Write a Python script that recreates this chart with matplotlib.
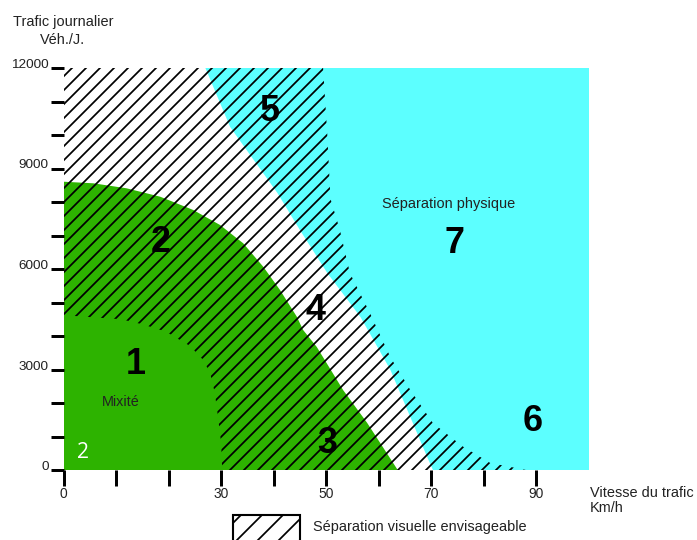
import matplotlib
matplotlib.use("Agg")
import matplotlib.pyplot as plt
from matplotlib.patches import Rectangle

# output size
DPI = 126
W, H = 697, 540

# axes ticks
speed_ticks = [0, 10, 20, 30, 40, 50, 60, 70, 80, 90]
speed_labels = ['0', '', '', '30', '', '50', '', '70', '', '90']
traffic_ticks = list(range(0, 13000, 1000))
traffic_labels = ['0', '', '', '3000', '', '', '6000', '', '', '9000', '', '', '12000']

# zone boundaries (km/h, veh./day)
green_x = [0, 5.7, 12.0, 18.4, 24.7, 29.8, 34.2, 38.0, 41.2, 44.4, 45.6, 48.2, 53.2, 57.8, 63.6]
green_y = [8606, 8558, 8409, 8158, 7761, 7313, 6767, 6069, 5373, 4576, 4179, 3672, 2388, 1403, 0]

mix_x = [0, 11, 15, 19.5, 24.1, 26.5, 27.9, 28.8, 29.4, 30, 30.2]
mix_y = [4620, 4500, 4350, 4130, 3700, 3300, 2900, 2300, 1580, 800, 0]

cyan_x = [27, 31.7, 40.7, 45, 50.2, 56.5, 62.2, 66, 69.2, 70.3]
cyan_y = [12000, 10240, 8270, 7160, 5880, 4570, 2990, 1580, 390, 0]

hatch_x = [49.4, 50.2, 50.8, 52.6, 54.5, 58.3, 62.2, 66, 70.3, 76.1, 81.2, 88]
hatch_y = [12000, 10000, 8100, 7160, 5880, 4690, 3370, 2390, 1400, 690, 210, 0]

# zone numbers
zone_names = ['1', '2', '3', '4', '5', '6', '7']
zone_speed = [13.8, 18.4, 50.1, 47.9, 39.3, 89.3, 74.5]
zone_traffic = [3280, 6925, 896, 4866, 10806, 1582, 6866]

GREEN = '#2db300'
CYAN = '#5cffff'
TEXT = '#222222'

plt.rcParams['font.family'] = ['Liberation Sans', 'DejaVu Sans']
plt.rcParams['hatch.linewidth'] = 1.0

fig = plt.figure(figsize=(W / DPI, H / DPI), dpi=DPI)
ax = fig.add_axes([63.5 / W, 70 / H, (589 - 63.5) / W, 402 / H])
ax.set_xlim(0, 100)
ax.set_ylim(0, 12000)
for s in ax.spines.values():
    s.set_visible(False)

# cyan: physical separation side
ax.fill(cyan_x + [100, 100], cyan_y + [0, 12000], facecolor=CYAN, lw=0)
# green: mixed traffic side
ax.fill([0] + green_x, [0] + green_y, facecolor=GREEN, lw=0)
# hatched band: visual separation possible (7 px line spacing at this dpi)
ax.fill([0, 0] + hatch_x, [0, 12000] + hatch_y, facecolor='none',
        edgecolor='black', hatch='///', lw=0)
# plain mix core
ax.fill([0] + mix_x, [0] + mix_y, facecolor=GREEN, lw=0)

for name, x, y in zip(zone_names, zone_speed, zone_traffic):
    ax.text(x, y, name, ha='center', va='center_baseline', fontsize=20.5,
            fontweight='bold', color='black')

ax.text(10.9, 2030, 'Mixité', ha='center', va='center', fontsize=8.2, color=TEXT)
ax.text(73.2, 7940, 'Séparation physique', ha='center', va='center',
        fontsize=8.3, color=TEXT)

ax.set_xticks(speed_ticks, speed_labels)
ax.set_yticks(traffic_ticks, traffic_labels)
ax.tick_params(axis='x', direction='out', length=9, width=1.7, pad=1,
               labelsize=7.9, labelcolor=TEXT)
ax.tick_params(axis='y', direction='out', length=7.5, width=1.7, pad=1,
               labelsize=7.7, labelcolor=TEXT)
for lab in ax.get_yticklabels():
    lab.set_va('baseline')

# axis titles
fig.text(63.5 / W, 1 - 22 / H, 'Trafic journalier', ha='center', va='center',
         fontsize=8.3, color=TEXT)
fig.text(62 / W, 1 - 40 / H, 'Véh./J.', ha='center', va='center',
         fontsize=8.3, color=TEXT)
fig.text(590 / W, 1 - 493 / H, 'Vitesse du trafic', ha='left', va='center',
         fontsize=8.3, color=TEXT)
fig.text(590 / W, 1 - 508 / H, 'Km/h', ha='left', va='center',
         fontsize=8.3, color=TEXT)

# legend swatch
fig.add_artist(Rectangle((233 / W, -10 / H), 67 / W, 35 / H,
                         transform=fig.transFigure, facecolor='white',
                         edgecolor='black', hatch='//', lw=1.2))
fig.text(313 / W, 1 - 527 / H, 'Séparation visuelle envisageable',
         ha='left', va='center', fontsize=8.3, color=TEXT)

# page number
fig.text(83 / W, 1 - 453 / H, '2', ha='center', va='center', fontsize=12,
         color='white', family=['Open Sans', 'DejaVu Sans'])

fig.savefig('out.png', dpi=DPI)
